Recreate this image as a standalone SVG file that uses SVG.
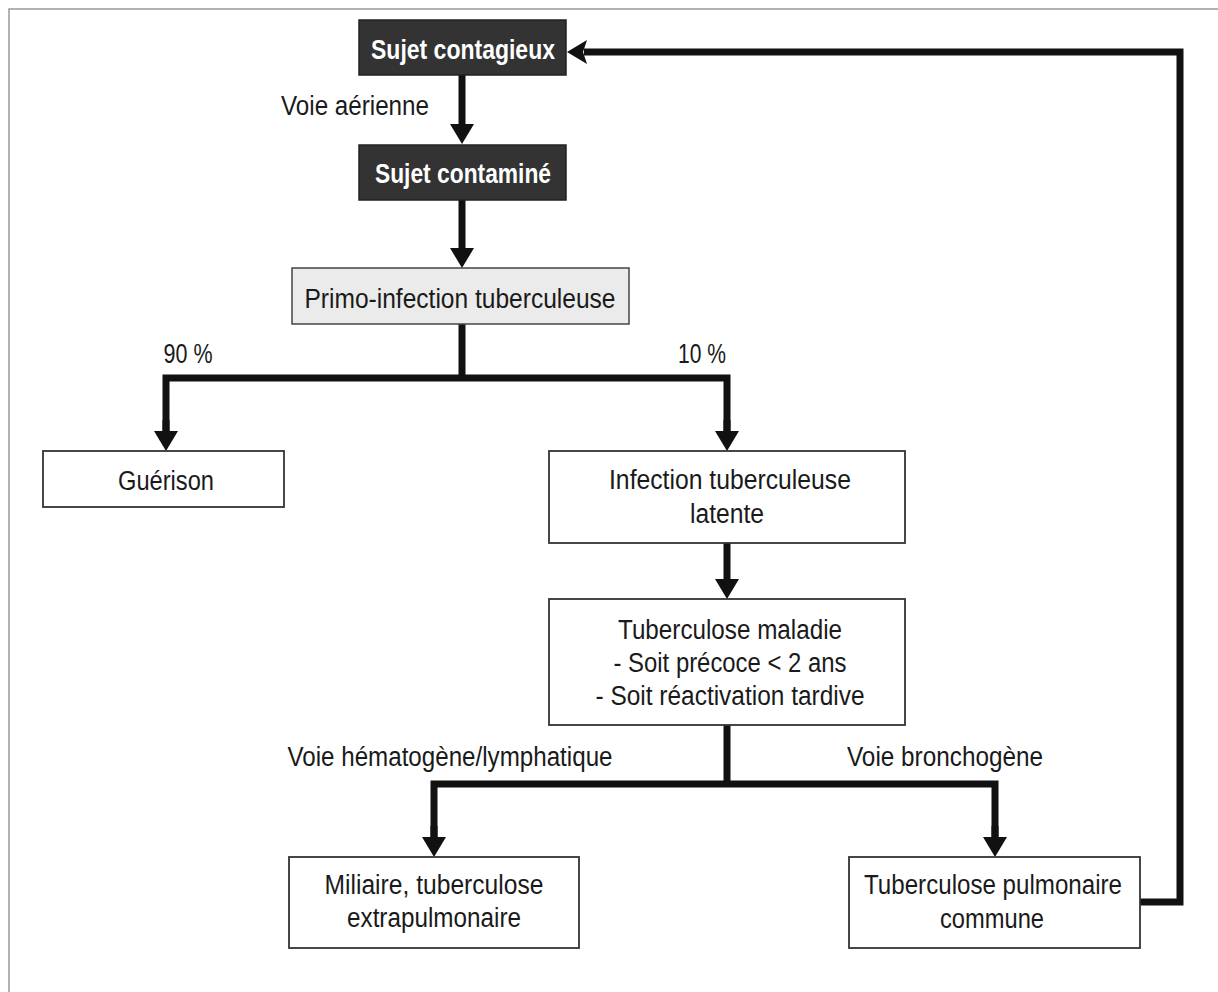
<svg xmlns="http://www.w3.org/2000/svg" width="1218" height="992" viewBox="0 0 1218 992">
<style>
text{font-family:"Liberation Sans Narrow","Liberation Sans",sans-serif;font-size:27px;fill:#1a1a1a;text-anchor:middle;}
.t{font-weight:bold;fill:#ffffff;font-size:28px;}
.dark{fill:#333333;stroke:#222222;stroke-width:1.5;}
.light{fill:#ebebeb;stroke:#444444;stroke-width:1.5;}
.box{fill:#ffffff;stroke:#333333;stroke-width:1.8;}
.c{fill:none;stroke:#111111;stroke-width:7;stroke-linejoin:miter;}
</style>
<defs>
<marker id="ah" viewBox="0 0 20 24" refX="0" refY="12" markerWidth="20" markerHeight="24" markerUnits="userSpaceOnUse" orient="auto">
<path d="M0,0 L20,12 L0,24 z" fill="#111111"/>
</marker>
<marker id="ah2" viewBox="0 0 20 24" refX="3" refY="12" markerWidth="20" markerHeight="24" markerUnits="userSpaceOnUse" orient="auto">
<path d="M0,0 L20,12 L0,24 L4,12 z" fill="#111111"/>
</marker>
</defs>
<rect x="0" y="0" width="1218" height="992" fill="#ffffff"/>
<rect x="9" y="9" width="1230" height="1010" fill="none" stroke="#999999" stroke-width="1.5"/>

<g id="connectors">
<path class="c" d="M462,75 V124" marker-end="url(#ah)"/>
<path class="c" d="M462,200 V248" marker-end="url(#ah)"/>
<path class="c" d="M462,324 V378"/>
<path class="c" d="M166,431 V378 H727 V431" />
<path class="c" d="M166,420 V431" marker-end="url(#ah)"/>
<path class="c" d="M727,420 V431" marker-end="url(#ah)"/>
<path class="c" d="M727,543 V579" marker-end="url(#ah)"/>
<path class="c" d="M727,725 V784"/>
<path class="c" d="M434,837 V784 H995 V837"/>
<path class="c" d="M434,826 V837" marker-end="url(#ah)"/>
<path class="c" d="M995,826 V837" marker-end="url(#ah)"/>
<path class="c" d="M1140,902 H1180 V52 H584" marker-end="url(#ah2)"/>
<text x="355" y="115" textLength="148" lengthAdjust="spacingAndGlyphs">Voie aérienne</text>
<text x="188" y="363" textLength="49" lengthAdjust="spacingAndGlyphs">90 %</text>
<text x="702" y="363" textLength="48" lengthAdjust="spacingAndGlyphs">10 %</text>
<text x="450" y="766" textLength="325" lengthAdjust="spacingAndGlyphs">Voie hématogène/lymphatique</text>
<text x="945" y="766" textLength="196" lengthAdjust="spacingAndGlyphs">Voie bronchogène</text>
</g>

<g id="sujet-contagieux">
<rect class="dark" x="359" y="20" width="207" height="55"/>
<text class="t" x="463" y="59" textLength="184" lengthAdjust="spacingAndGlyphs">Sujet contagieux</text>
</g>
<g id="sujet-contamine">
<rect class="dark" x="359" y="145" width="207" height="55"/>
<text class="t" x="463" y="183" textLength="176" lengthAdjust="spacingAndGlyphs">Sujet contaminé</text>
</g>
<g id="primo-infection">
<rect class="light" x="292" y="268" width="337" height="56"/>
<text x="460" y="308" textLength="311" lengthAdjust="spacingAndGlyphs">Primo-infection tuberculeuse</text>
</g>
<g id="guerison">
<rect class="box" x="43" y="451" width="241" height="56"/>
<text x="166" y="490" textLength="96" lengthAdjust="spacingAndGlyphs">Guérison</text>
</g>
<g id="infection-latente">
<rect class="box" x="549" y="451" width="356" height="92"/>
<text x="730" y="489" textLength="242" lengthAdjust="spacingAndGlyphs">Infection tuberculeuse</text>
<text x="727" y="523" textLength="74" lengthAdjust="spacingAndGlyphs">latente</text>
</g>
<g id="tuberculose-maladie">
<rect class="box" x="549" y="599" width="356" height="126"/>
<text x="730" y="639" textLength="224" lengthAdjust="spacingAndGlyphs">Tuberculose maladie</text>
<text x="730" y="672" textLength="233" lengthAdjust="spacingAndGlyphs">- Soit précoce &lt; 2 ans</text>
<text x="730" y="705" textLength="269" lengthAdjust="spacingAndGlyphs">- Soit réactivation tardive</text>
</g>
<g id="miliaire">
<rect class="box" x="289" y="857" width="290" height="91"/>
<text x="434" y="894" textLength="219" lengthAdjust="spacingAndGlyphs">Miliaire, tuberculose</text>
<text x="434" y="927" textLength="174" lengthAdjust="spacingAndGlyphs">extrapulmonaire</text>
</g>
<g id="tuberculose-pulmonaire">
<rect class="box" x="849" y="857" width="291" height="91"/>
<text x="993" y="894" textLength="258" lengthAdjust="spacingAndGlyphs">Tuberculose pulmonaire</text>
<text x="992" y="928" textLength="104" lengthAdjust="spacingAndGlyphs">commune</text>
</g>
</svg>
